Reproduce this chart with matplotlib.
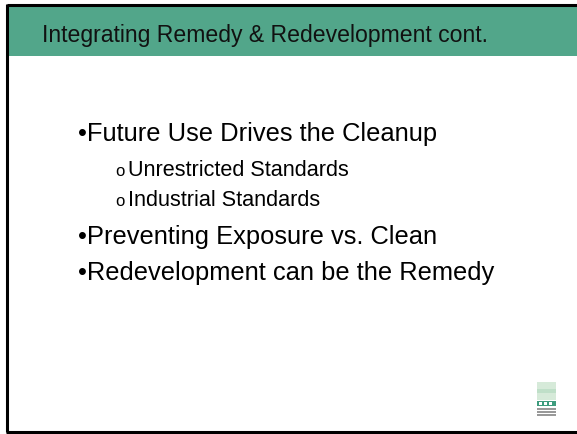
import matplotlib
matplotlib.use("Agg")
import matplotlib.pyplot as plt
from matplotlib.patches import Rectangle

W, H = 577, 435
title = "Integrating Remedy & Redevelopment cont."
bullet_marks = ["\u2022", "o", "o", "\u2022", "\u2022"]
bullet_texts = ["Future Use Drives the Cleanup",
                "Unrestricted Standards",
                "Industrial Standards",
                "Preventing Exposure vs. Clean",
                "Redevelopment can be the Remedy"]
bullet_levels = [0, 1, 1, 0, 0]
bullet_baselines = [141, 176, 206, 244, 280]

plt.rcParams['font.family'] = ['Liberation Sans', 'DejaVu Sans']
fig = plt.figure(figsize=(W / 100, H / 100), dpi=100)
ax = fig.add_axes([0, 0, 1, 1])
ax.set_xlim(0, W)
ax.set_ylim(H, 0)
ax.axis('off')

# header band
ax.add_patch(Rectangle((7, 6), W - 7, 51, facecolor='#52A68A', edgecolor='none'))
# frame lines
ax.plot([7, W], [5.5, 5.5], color='black', lw=2.2, solid_capstyle='butt')
ax.plot([7, 7], [5, 433], color='black', lw=2.2, solid_capstyle='butt')
ax.plot([6, W], [433, 433], color='black', lw=2.2, solid_capstyle='butt')

ax.text(42, 42, title, fontsize=16.6, color='#111111', ha='left', va='baseline')

for mark, txt, lvl, yb in zip(bullet_marks, bullet_texts, bullet_levels, bullet_baselines):
    if lvl == 0:
        ax.text(78, yb, mark + txt, fontsize=18.4, color='black', ha='left', va='baseline')
    else:
        ax.text(115, yb, mark, fontsize=12, color='black', ha='left', va='baseline')
        ax.text(127.5, yb, txt, fontsize=15.6, color='black', ha='left', va='baseline')

# logo
ax.add_patch(Rectangle((537, 383), 19, 18, facecolor='#D6EAD9', edgecolor='none'))
ax.add_patch(Rectangle((537, 390), 19, 4, facecolor='#BFDFC8', edgecolor='none'))
ax.add_patch(Rectangle((537, 402), 19, 5, facecolor='#3E9C7E', edgecolor='none'))
for xi in [539, 544, 549]:
    ax.add_patch(Rectangle((xi, 403), 3, 3, facecolor='white', edgecolor='none'))
for yi in [409, 412, 415]:
    ax.add_patch(Rectangle((537, yi), 19, 1.5, facecolor='#999999', edgecolor='none'))

fig.savefig('out.png', dpi=100)
